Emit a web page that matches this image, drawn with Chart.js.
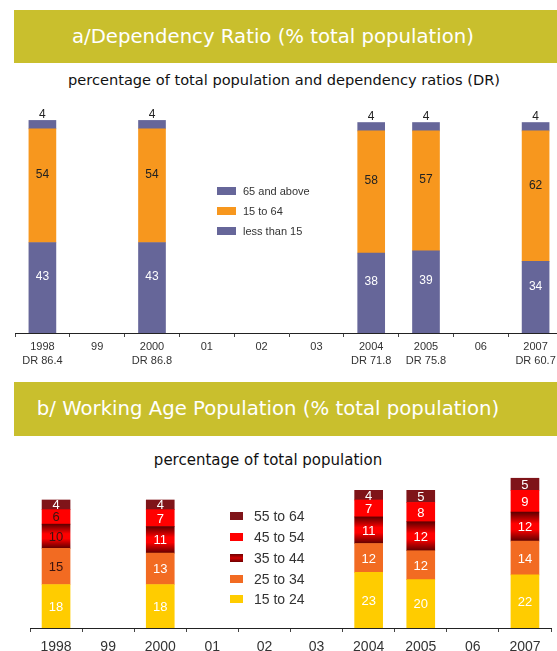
<!DOCTYPE html>
<html>
<head>
<meta charset="utf-8">
<script src="https://cdn.jsdelivr.net/npm/chart.js@4.4.0/dist/chart.umd.min.js"></script>
<style>
  html, body { margin: 0; padding: 0; background: #fff; width: 557px; height: 651px; overflow: hidden; position: relative; }
  .banner { position: absolute; left: 14px; width: 560px; background: #C9BF2D; color: #fff;
            font-family: "DejaVu Sans", sans-serif; font-size: 19.7px; }
  .banner span, .sub { position: absolute; width: 600px; text-align: center; white-space: nowrap; }
  .sub { font-family: "DejaVu Sans", sans-serif; color: #111; line-height: 20px; }
  canvas { position: absolute; left: 0; }
  .legend { position: absolute; font-family: "Liberation Sans", Arial, sans-serif; color: #333; }
  .legend .row { position: absolute; white-space: nowrap; display: flex; align-items: center; }
  .legend .sw { display: inline-block; height: 8px; }
</style>
</head>
<body>
<div class="banner" style="top:10px;height:53px;line-height:53px;"><span style="left:-41px;">a/Dependency Ratio (% total population)</span></div>
<div class="sub" style="left:-16px;top:70px;font-size:14.6px;">percentage of total population and dependency ratios (DR)</div>
<canvas id="depChart" width="570" height="270" style="top:100px;"></canvas>
<div class="legend" id="depLegend"></div>

<div class="banner" style="top:382px;height:54px;line-height:54px;"><span style="left:-46px;">b/ Working Age Population (% total population)</span></div>
<div class="sub" style="left:-32px;top:450px;font-size:15px;">percentage of total population</div>
<canvas id="workChart" width="557" height="186" style="top:465px;"></canvas>
<div class="legend" id="workLegend"></div>

<script>
// categories
const years = ['1998', '99', '2000', '01', '02', '03', '2004', '2005', '06', '2007'];
const drValues = ['86.4', null, '86.8', null, null, null, '71.8', '75.8', null, '60.7'];

// a/ dependency ratio (% total population)
const lessThan15 = [43, null, 43, null, null, null, 38, 39, null, 34];
const age15to64 = [54, null, 54, null, null, null, 58, 57, null, 62];
const age65up = [4, null, 4, null, null, null, 4, 4, null, 4];

// b/ working age population (% total population)
const age15to24 = [18, null, 18, null, null, null, 23, 20, null, 22];
const age25to34 = [15, null, 13, null, null, null, 12, 12, null, 14];
const age35to44 = [10, null, 11, null, null, null, 11, 12, null, 12];
const age45to54 = [6, null, 7, null, null, null, 7, 8, null, 9];
const age55to64 = [4, null, 4, null, null, null, 4, 5, null, 5];

const depLabels = years.map((y, i) => drValues[i] ? [y, 'DR ' + drValues[i]] : y);

// value labels drawn on / above the segments
const valueLabels = {
    id: 'valueLabels',
    afterDatasetsDraw(chart, args, opts) {
        const ctx = chart.ctx;
        ctx.save();
        ctx.font = opts.font;
        ctx.textAlign = 'center';
        ctx.textBaseline = 'middle';
        chart.data.datasets.forEach((ds, di) => {
            const meta = chart.getDatasetMeta(di);
            meta.data.forEach((bar, i) => {
                const v = ds.data[i];
                if (v == null) return;
                ctx.fillStyle = opts.color(di, i);
                const y = opts.above(di) ? bar.y - 7 : (bar.y + bar.base) / 2 + opts.shift;
                ctx.fillText(v, bar.x, y + 1);
            });
        });
        ctx.restore();
    }
};

function xAxis(fontSize, lineHeight, padding, height) {
    return {
        stacked: true,
        grid: { drawOnChartArea: false, drawTicks: true, tickLength: 4, color: '#444', offset: true },
        border: { display: true, color: '#222', width: 1 },
        ticks: { color: '#333', font: { family: 'Liberation Sans', size: fontSize, lineHeight: lineHeight },
                 padding: padding, maxRotation: 0, autoSkip: false },
        afterFit: s => { s.height = height; }
    };
}

// Chart a
const depSets = [
    { label: 'less than 15', data: lessThan15, backgroundColor: '#666699' },
    { label: '15 to 64', data: age15to64, backgroundColor: '#F7971E' },
    { label: '65 and above', data: age65up, backgroundColor: '#666699' }
];
new Chart(document.getElementById('depChart').getContext('2d'), {
    type: 'bar',
    data: { labels: depLabels, datasets: depSets.map(d => Object.assign({ barThickness: 27 }, d)) },
    options: {
        responsive: false, animation: false,
        layout: { padding: { left: 15, right: 7, top: 12, bottom: 0 } },
        plugins: {
            legend: { display: false }, tooltip: { enabled: false },
            valueLabels: {
                font: '12px "Liberation Sans", Arial',
                shift: -12,
                above: di => di === 2,
                color: di => di === 0 ? '#fff' : '#222'
            }
        },
        scales: {
            x: xAxis(11, 1.27, 3, 37),
            y: { stacked: true, display: false, min: 0, max: 105 }
        }
    },
    plugins: [valueLabels]
});

// Chart b
function midGradient(c) {
    const chart = c.chart;
    const y = chart.scales.y;
    const i = c.dataIndex;
    if (!y || age35to44[i] == null) return '#C00000';
    const start = age15to24[i] + age25to34[i];
    const top = y.getPixelForValue(start + age35to44[i]);
    const bot = y.getPixelForValue(start);
    if (!isFinite(top) || !isFinite(bot) || top === bot) return '#C00000';
    const g = chart.ctx.createLinearGradient(0, top, 0, bot);
    g.addColorStop(0, '#5E0000');
    g.addColorStop(0.4, '#FF0000');
    g.addColorStop(0.6, '#FF0000');
    g.addColorStop(1, '#5E0000');
    return g;
}
const workSets = [
    { label: '15 to 24', data: age15to24, backgroundColor: '#FFCC00', swatch: '#FFCC00' },
    { label: '25 to 34', data: age25to34, backgroundColor: '#F26B22', swatch: '#F26B22' },
    { label: '35 to 44', data: age35to44, backgroundColor: midGradient, swatch: 'linear-gradient(#6E0000, #D00000, #6E0000)' },
    { label: '45 to 54', data: age45to54, backgroundColor: '#FF0000', swatch: '#FF0000' },
    { label: '55 to 64', data: age55to64, backgroundColor: '#7F1419', swatch: '#7F1419' }
];
new Chart(document.getElementById('workChart').getContext('2d'), {
    type: 'bar',
    data: { labels: years, datasets: workSets.map(d => ({ label: d.label, data: d.data, backgroundColor: d.backgroundColor, barThickness: 28 })) },
    options: {
        responsive: false, animation: false,
        layout: { padding: { left: 30, right: 6, top: 6, bottom: 0 } },
        plugins: {
            legend: { display: false }, tooltip: { enabled: false },
            valueLabels: {
                font: '13px "Liberation Sans", Arial',
                shift: 0,
                above: () => false,
                color: (di, i) => (i === 0 && di >= 1 && di <= 3) ? '#3A1410' : '#fff'
            }
        },
        scales: {
            x: xAxis(14, 1.2, 7, 23),
            y: { stacked: true, display: false, min: 0, max: 65 }
        }
    },
    plugins: [valueLabels]
});

// legends (top entry = top segment)
function buildLegend(id, sets, x, ys, swW, textX, fontSize, colorKey) {
    const el = document.getElementById(id);
    sets.slice().reverse().forEach((d, k) => {
        const row = document.createElement('div');
        row.className = 'row';
        row.style.left = x + 'px';
        row.style.top = (ys[k] - 10) + 'px';
        row.style.height = '20px';
        row.style.fontSize = fontSize + 'px';
        const sw = document.createElement('span');
        sw.className = 'sw';
        sw.style.width = swW + 'px';
        sw.style.background = d[colorKey];
        sw.style.marginRight = (textX - x - swW) + 'px';
        row.appendChild(sw);
        row.appendChild(document.createTextNode(d.label));
        el.appendChild(row);
    });
}
buildLegend('depLegend', depSets, 217, [191, 211, 231], 19, 243, 11, 'backgroundColor');
buildLegend('workLegend', workSets, 230, [516, 537, 558, 579, 599], 13, 254, 14, 'swatch');
</script>
</body>
</html>
